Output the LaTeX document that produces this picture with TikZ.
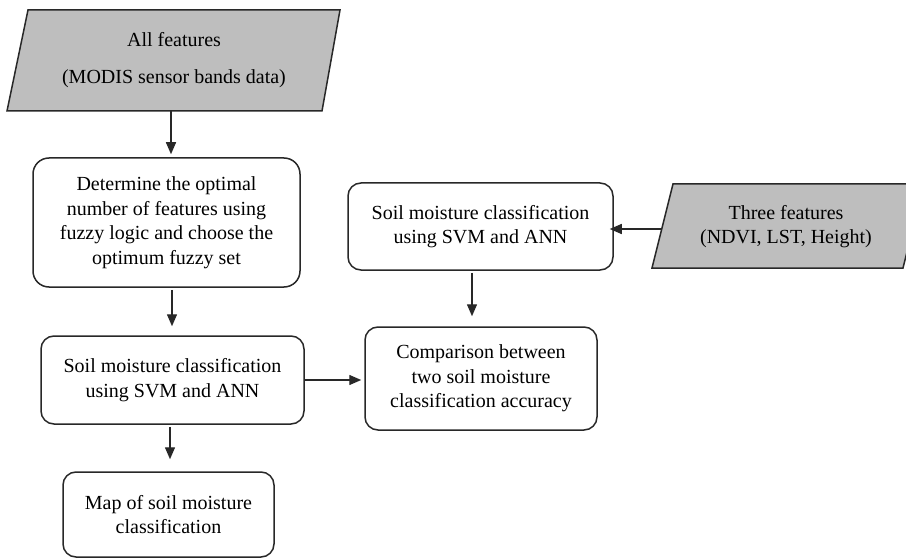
\documentclass[tikz,border=0pt]{standalone}
\usepackage{fontspec}
\setmainfont{Liberation Serif}
\usetikzlibrary{arrows.meta}
\definecolor{paragray}{RGB}{190,190,190}
\definecolor{linecol}{RGB}{40,40,40}
\tikzset{
  stepbox/.style={draw=linecol, line width=1.5pt, rounded corners=13pt, fill=white,
    align=center, inner sep=0pt, font=\fontsize{20}{24.5}\selectfont},
  paratext/.style={align=center, inner sep=0pt, font=\fontsize{20}{24}\selectfont},
  parashape/.style={draw=linecol, line width=1.5pt, fill=paragray, line join=miter},
  conn/.style={draw=linecol, line width=1.4pt, -{Triangle[length=12pt,width=10pt]}}
}
\begin{document}
\begin{tikzpicture}[x=1pt,y=-1pt]
\useasboundingbox (0,0) rectangle (906,559);
% parallelogram 1
\path[parashape] (28,10) -- (340,10) -- (322,111) -- (7,111) -- cycle;
\node[paratext, minimum width=290pt, minimum height=101pt] (p1) at (174,60.5)
  {All features\\[13pt](MODIS sensor bands data)};
% parallelogram 2
\path[parashape] (673,184) -- (924,184) -- (903,268) -- (652,268) -- cycle;
\node[paratext] (p2) at (786,226.5) {Three features\\(NDVI, LST, Height)};
\coordinate (p2w) at (661.5,229);
% boxes
\node[stepbox, rounded corners=16pt, minimum width=267pt, minimum height=129pt] (b2) at (166.5,222.5)
  {Determine the optimal\\number of features using\\fuzzy logic and choose the\\optimum fuzzy set};
\node[stepbox, minimum width=263pt, minimum height=88pt] (b3) at (172.5,380)
  {\raisebox{5pt}{\parbox{263pt}{\centering Soil moisture classification\\using SVM and ANN}}};
\node[stepbox, minimum width=211pt, minimum height=85pt] (b4) at (168.5,514.5)
  {\raisebox{4pt}{\parbox{211pt}{\centering Map of soil moisture\\classification}}};
\node[stepbox, minimum width=265pt, minimum height=87pt] (b5) at (480.5,226.5)
  {\raisebox{5pt}{\parbox{265pt}{\centering Soil moisture classification\\using SVM and ANN}}};
\node[stepbox, minimum width=232pt, minimum height=103pt] (b6) at (481,378.5)
  {Comparison between\\two soil moisture\\classification accuracy};
% connectors
\coordinate (x1) at (171,0);
\coordinate (x2) at (172,0);
\coordinate (x3) at (170,0);
\coordinate (x5) at (472,0);
\draw[conn] (p1.south -| x1) -- ([yshift=3pt]b2.north -| x1);
\draw[conn] ([yshift=-2pt]b2.south -| x2) -- ([yshift=9pt]b3.north -| x2);
\draw[conn] ([yshift=-2pt]b3.south -| x3) -- ([yshift=12pt]b4.north -| x3);
\draw[conn] ([yshift=-2pt]b5.south -| x5) -- ([yshift=10pt]b6.north -| x5);
\draw[conn] (b3.east) -- ([xshift=-3pt]b3.east -| b6.west);
\draw[conn] (p2w) -- ([xshift=-4pt]p2w -| b5.east);
\end{tikzpicture}
\end{document}
